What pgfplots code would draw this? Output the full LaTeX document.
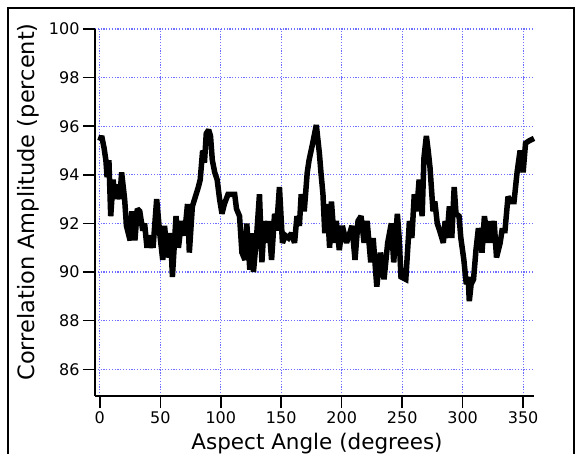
\documentclass[border=0pt]{standalone}
\usepackage{fontspec}
\setmainfont{DejaVu Sans}
\usepackage{pgfplots}
\pgfplotsset{compat=1.18}
\definecolor{gridblue}{RGB}{110,110,255}

\begin{document}
\begin{tikzpicture}
\useasboundingbox (0,0) rectangle (577pt,454pt);
% outer frame (bottom edge runs off the page)
\draw[line width=1.5pt] (8pt,-5pt) -- (8pt,446pt) -- (574pt,446pt) -- (574pt,-5pt);
\begin{axis}[
  at={(95pt,58pt)}, anchor=south west,
  scale only axis, width=439pt, height=367pt,
  xmin=-4, xmax=359, ymin=84.9, ymax=100,
  axis x line*=bottom, axis y line*=left,
  axis line style={line width=1.5pt, -},
  xtick={0,50,...,350}, ytick={86,88,...,100},
  tick align=outside, major tick length=12pt,
  tick style={line width=1.5pt, black},
  grid=major,
  major grid style={gridblue, line width=1.1pt, dash pattern=on 1.2pt off 1.6pt},
  tick label style={font=\fontsize{16}{18}\selectfont},
  /pgf/number format/assume math mode=true,
  clip=false,
]
\addplot[black, line width=5.5pt, line join=miter, miter limit=2] coordinates {
(0,95.4) (1.5,95.6) (3.5,95.1) (5,94.6) (6,93.9) (7.5,94.6) (9,92.3) (11,93.8)
(12.5,93.0) (14,93.6) (16.5,93.0) (18,94.1) (20.5,93.0) (22,91.9) (25,91.3)
(26.5,92.5) (29,91.3) (31,92.6) (33,92.5) (35.5,91.7) (37,92.0) (39,91.0)
(41,91.5) (44,91.0) (47,93.0) (49.5,91.6) (52,90.5) (53.5,91.9) (56,90.6)
(58.5,91.6) (60,89.8) (63,92.3) (65,91.0) (67.5,92.1) (70,91.5) (72.5,92.8)
(74,90.8) (76.5,92.7) (79,93.1) (81.5,93.5) (83,93.8) (85,95.0) (86.5,94.5)
(88,95.7) (90,95.85) (91.5,95.6) (93,94.6) (95,94.1) (97,93.8) (99,93.0)
(101,92.4) (103,92.8) (106,93.2) (109,93.2) (111.5,93.2) (113,92.6) (115.5,92.3)
(117.5,90.8) (120,90.5) (121.5,92.0) (124,90.1) (125.5,91.6) (127,90.0)
(129.5,91.4) (132,93.2) (134,90.4) (136,92.1) (138,91.2) (139.5,92.1) (142,90.5)
(144.5,92.4) (146,91.7) (148.5,93.5) (151,91.2) (153.5,91.5) (156,91.4)
(158.5,91.6) (161,91.2) (163,92.3) (165,91.9) (166.5,93.2) (169,92.5)
(171.5,94.1) (173,94.6) (176,95.3) (179,96.05) (181.5,94.9) (183,94.0)
(184.5,93.2) (186,91.6) (188,92.8) (190,91.0) (191.5,92.9) (194,91.2)
(195.5,92.1) (198,90.9) (200.5,91.9) (204,91.2) (206,91.5) (208.5,91.9)
(211,90.5) (213.5,92.1) (216,92.3) (218.5,91.2) (221,92.1) (224,90.4)
(226,91.4) (229,89.4) (232,90.8) (235,89.7) (238,91.2) (241,92.0) (243,90.4)
(246,92.4) (247.5,91.4) (249,89.8) (253,89.7) (256,92.1) (258,91.4) (260,93.2)
(262,92.5) (264,93.8) (266.5,92.3) (268,94.7) (270,95.6) (271.5,95.0)
(273,94.3) (275.5,92.5) (277,92.9) (279,92.0) (281,91.7) (284,91.2)
(285.5,92.1) (287,91.4) (289,92.7) (291,91.4) (293,93.5) (294.5,92.4)
(297,92.3) (298.5,91.4) (301,90.5) (303,89.5) (304.5,89.8) (305.5,88.8)
(307,89.5) (309,89.7) (311,90.9) (313,91.8) (314,91.6) (316,90.8) (318,92.3)
(321,91.2) (322,92.1) (323.5,91.2) (326,92.1) (328,90.6) (331,91.2)
(332.5,91.7) (335,91.7) (337.5,93.1) (340,92.9) (342.5,92.9) (345,94.1)
(347.5,95.0) (350,94.1) (352,95.3) (355,95.4) (359,95.5)
};
\end{axis}
\node[anchor=base, font=\fontsize{21.5}{24}\selectfont] at (317pt,4pt) {Aspect Angle (degrees)};
\node[anchor=base, rotate=90, font=\fontsize{22.5}{25}\selectfont] at (34pt,252pt) {Correlation Amplitude (percent)};
\end{tikzpicture}
\end{document}
